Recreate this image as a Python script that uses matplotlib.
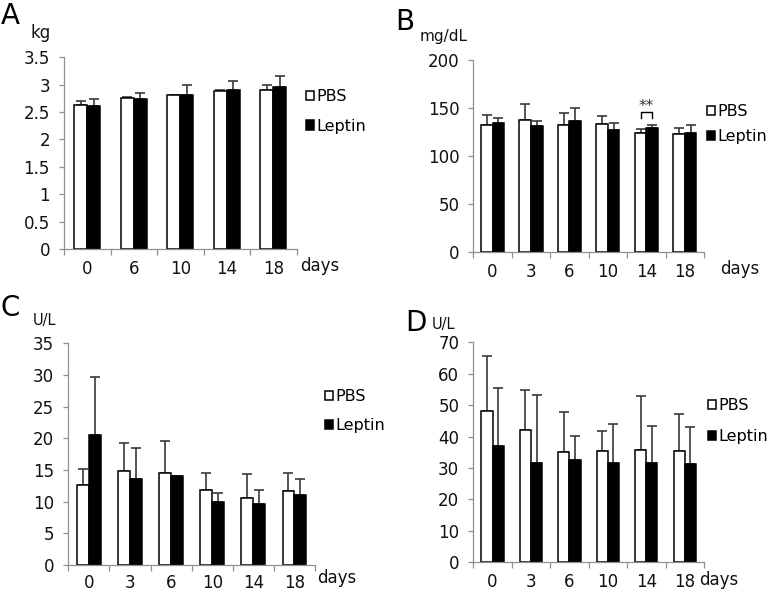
import matplotlib
matplotlib.use("Agg")
import matplotlib.pyplot as plt
import numpy as np

plt.rcParams['font.family'] = ['DejaVu Sans']

W, H = 776, 592

# ---- data ----
days_A = ["0", "6", "10", "14", "18"]
pbs_A = [2.635, 2.75, 2.805, 2.88, 2.90]
pbs_A_err = [0.075, 0.025, 0.015, 0.03, 0.095]
lep_A = [2.61, 2.73, 2.82, 2.90, 2.96]
lep_A_err = [0.135, 0.11, 0.17, 0.16, 0.19]

days_B = ["0", "3", "6", "10", "14", "18"]
pbs_B = [132.6, 137.5, 132.6, 133.3, 123.6, 122.6]
pbs_B_err = [10.4, 16.3, 12.4, 8.7, 4.2, 6.6]
lep_B = [134.0, 130.9, 136.5, 127.4, 129.2, 124.3]
lep_B_err = [6.0, 5.1, 13.2, 7.0, 3.1, 8.0]
sig_B_index = 4
sig_B_level = 146

days_C = ["0", "3", "6", "10", "14", "18"]
pbs_C = [12.7, 14.8, 14.5, 11.8, 10.5, 11.7]
pbs_C_err = [2.5, 4.5, 5.0, 2.7, 3.9, 2.9]
lep_C = [20.6, 13.5, 14.1, 9.9, 9.7, 11.1]
lep_C_err = [9.1, 5.0, 0.0, 1.4, 2.2, 2.5]

days_D = ["0", "3", "6", "10", "14", "18"]
pbs_D = [48.2, 42.1, 35.2, 35.5, 35.7, 35.5]
pbs_D_err = [17.3, 12.8, 12.5, 6.4, 17.2, 11.7]
lep_D = [37.1, 31.7, 32.6, 31.5, 31.6, 31.4]
lep_D_err = [18.3, 21.6, 7.6, 12.6, 11.9, 11.7]

FS = 12
LFS = 11.5

fig = plt.figure(figsize=(W / 100, H / 100), dpi=100)


def px_rect(l, r, t, b):
    return [l / W, 1 - b / H, (r - l) / W, (b - t) / H]


def panel(rect, cats, pbs, pbs_err, lep, lep_err, ymax, ystep, yfmt, width,
          letter, letter_xy, unit, unit_xy, unit_fs, days_xy, leg_xy, leg_sp, xpad):
    ax = fig.add_axes(px_rect(*rect))
    x = np.arange(len(cats))
    b1 = ax.bar(x - width / 2, pbs, width, color='white', edgecolor='black',
                linewidth=1.1, label='PBS', zorder=2)
    b2 = ax.bar(x + width / 2, lep, width, color='black', edgecolor='black',
                linewidth=1.1, label='Leptin', zorder=2)
    ax.errorbar(x - width / 2, pbs, yerr=[np.zeros(len(x)), pbs_err], fmt='none',
                ecolor='#3a3a3a', elinewidth=1.2, capsize=3.5, capthick=1.2, zorder=1)
    ax.errorbar(x + width / 2, lep, yerr=[np.zeros(len(x)), lep_err], fmt='none',
                ecolor='#3a3a3a', elinewidth=1.2, capsize=3.5, capthick=1.2, zorder=1)
    ax.set_xlim(-0.5, len(cats) - 0.5)
    ax.set_ylim(0, ymax)
    ticks = np.arange(0, ymax + ystep / 2, ystep)
    ax.set_yticks(ticks)
    ax.set_yticklabels([yfmt(t) for t in ticks])
    ax.set_xticks(x)
    ax.set_xticklabels(cats)
    ax.set_xticks(np.arange(-0.5, len(cats)), minor=True)
    ax.tick_params(axis='x', which='major', length=0, pad=xpad, labelsize=FS, colors='#111111')
    ax.tick_params(axis='x', which='minor', length=4.5, width=0.9, color='#909090', direction='out')
    ax.tick_params(axis='y', length=3.6, width=0.9, color='#909090', pad=6.5,
                   labelsize=FS, labelcolor='#111111')
    for s in ['top', 'right']:
        ax.spines[s].set_visible(False)
    for s in ['left', 'bottom']:
        ax.spines[s].set_color('#909090')
        ax.spines[s].set_linewidth(0.9)
    fig.text(letter_xy[0] / W, 1 - letter_xy[1] / H, letter, fontsize=20,
             ha='left', va='center', color='black')
    fig.text(unit_xy[0] / W, 1 - unit_xy[1] / H, unit, fontsize=unit_fs,
             ha='left', va='center', color='#111111')
    fig.text(days_xy[0] / W, 1 - days_xy[1] / H, 'days', fontsize=FS,
             ha='left', va='center', color='#111111')
    ax.legend(handles=[b1, b2], loc='center left',
              bbox_to_anchor=(leg_xy[0] / W, 1 - leg_xy[1] / H),
              bbox_transform=fig.transFigure, frameon=False, fontsize=LFS,
              handlelength=0.5, handleheight=0.5, handletextpad=0.15,
              labelspacing=leg_sp, borderpad=0, borderaxespad=0)
    return ax, x


axA, xA = panel((64, 296.7, 57.3, 249), days_A, pbs_A, pbs_A_err, lep_A, lep_A_err,
                3.5, 0.5, lambda v: "%g" % v, 0.28, 'A', (1, 16), 'kg', (30, 33), 12,
                (300, 266), (306, 111.5), 0.9, 8)
axB, xB = panel((473.3, 704, 60, 252), days_B, pbs_B, pbs_B_err, lep_B, lep_B_err,
                200, 50, lambda v: "%d" % v, 0.30, 'B', (395, 22), 'mg/dL', (420, 36), 11,
                (720, 269), (707, 124), 0.6, 8)
axC, xC = panel((68.3, 315, 343.3, 565), days_C, pbs_C, pbs_C_err, lep_C, lep_C_err,
                35, 5, lambda v: "%d" % v, 0.29, 'C', (0, 308), 'U/L', (33, 321), 10.5,
                (317, 578), (325, 411), 0.85, 6.5)
axD, xD = panel((473.3, 704, 342.3, 562.3), days_D, pbs_D, pbs_D_err, lep_D, lep_D_err,
                70, 10, lambda v: "%d" % v, 0.29, 'D', (405, 323), 'U/L', (432, 324), 10.5,
                (699, 580), (708, 421), 0.98, 7.5)

# significance bracket in B
w = 0.30
xi = xB[sig_B_index]
xl, xr = xi - w / 2, xi + w / 2
axB.plot([xl, xl, xr, xr], [sig_B_level - 6.5, sig_B_level, sig_B_level, sig_B_level - 6.5],
         color='black', linewidth=1.0, zorder=3)
axB.text(xi, sig_B_level + 1, '**', ha='center', va='baseline', fontsize=11, color='#333333')

fig.savefig('out.png', dpi=100)
